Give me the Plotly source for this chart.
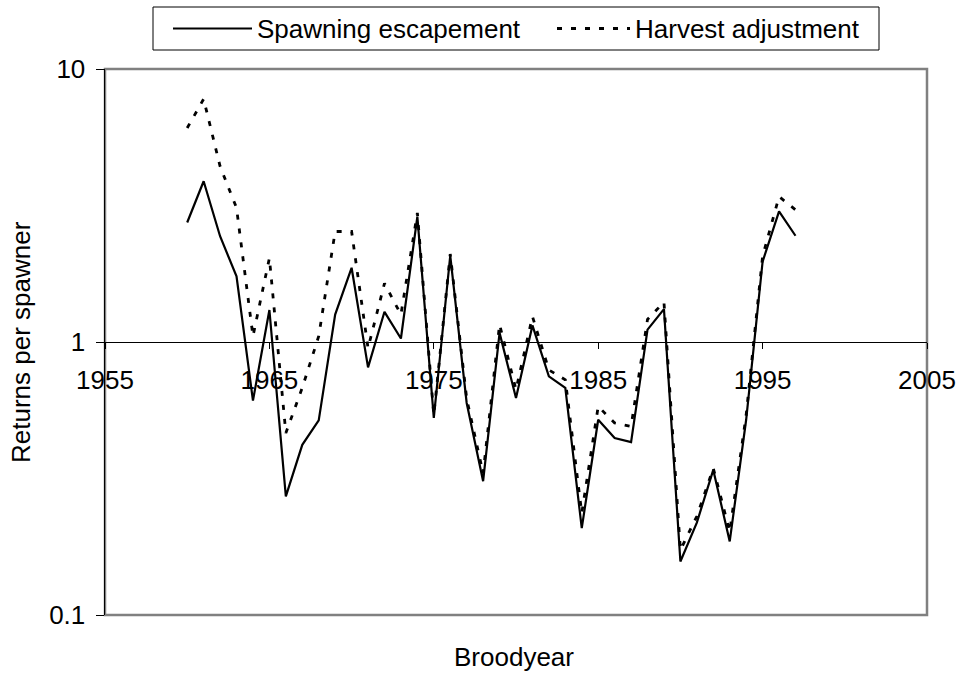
import plotly.graph_objects as go

years = list(range(1960, 1998))
spawning_escapement = [2.74, 3.88, 2.44, 1.74, 0.61, 1.31, 0.272, 0.42, 0.516, 1.26,
                       1.87, 0.807, 1.29, 1.03, 2.88, 0.527, 2.07, 0.598, 0.309, 1.08,
                       0.624, 1.15, 0.748, 0.679, 0.208, 0.519, 0.445, 0.43, 1.11, 1.32,
                       0.157, 0.218, 0.34, 0.186, 0.519, 1.97, 3.01, 2.45]
harvest_adjustment = [6.08, 7.76, 4.4, 3.1, 1.05, 2.03, 0.464, 0.68, 1.05, 2.54,
                      2.54, 0.95, 1.64, 1.26, 2.97, 0.54, 2.1, 0.62, 0.33, 1.16,
                      0.669, 1.24, 0.79, 0.727, 0.236, 0.581, 0.505, 0.491, 1.21, 1.40,
                      0.173, 0.23, 0.345, 0.202, 0.54, 2.06, 3.41, 3.05]

series_names = ["Spawning escapement", "Harvest adjustment"]
x_ticks = [1955, 1965, 1975, 1985, 1995, 2005]
y_ticks = [0.1, 1, 10]
y_labels = ["0.1", "1", "10"]

FONT = "Liberation Sans, Arial, sans-serif"
FS = 26
W, H = 958, 673
L, R, T, B = 105, 31, 69, 58
PW, PH = W - L - R, H - T - B


def sx(x):
    """figure pixel x -> paper fraction"""
    return (x - L) / PW


def sy(y):
    """figure pixel y -> paper fraction"""
    return (H - B - y) / PH


DASH = "5px,9px"

fig = go.Figure()
fig.add_trace(go.Scatter(x=years, y=spawning_escapement, mode="lines",
                         name=series_names[0],
                         line=dict(color="black", width=2.2)))
fig.add_trace(go.Scatter(x=years, y=harvest_adjustment, mode="lines",
                         name=series_names[1],
                         line=dict(color="black", width=2.8, dash=DASH)))

fig.update_layout(
    width=W, height=H,
    margin=dict(l=L, r=R, t=T, b=B, autoexpand=False),
    paper_bgcolor="white", plot_bgcolor="white",
    font=dict(family=FONT, size=FS, color="black"),
    showlegend=False,
    xaxis=dict(range=[1955, 2005], tickvals=x_ticks, ticks="outside", ticklen=6,
               tickcolor="black", showline=True, linecolor="black", linewidth=1,
               showgrid=False, zeroline=False, anchor="free", position=0.5,
               automargin=False, ticklabelstandoff=9,
               tickfont=dict(size=FS)),
    yaxis=dict(type="log", range=[-1, 1], tickvals=y_ticks, ticktext=y_labels,
               ticks="outside", ticklen=8, tickcolor="black", showline=True,
               linecolor="black", linewidth=1.5, showgrid=False, zeroline=False,
               automargin=False, ticklabelstandoff=5,
               tickfont=dict(size=FS)),
)

# plot-area frame
fig.add_shape(type="rect", xref="paper", yref="paper", x0=0, y0=0, x1=1, y1=1,
              line=dict(color="#808080", width=2.5), layer="below")

# axis titles
fig.add_annotation(text="Returns per spawner", xref="paper", yref="paper",
                   x=sx(21), y=sy(342), xanchor="center", yanchor="middle",
                   textangle=-90, showarrow=False, font=dict(size=FS))
fig.add_annotation(text="Broodyear", xref="paper", yref="paper", x=sx(514),
                   y=sy(657), xanchor="center", yanchor="middle",
                   showarrow=False, font=dict(size=FS))

# legend box
fig.add_shape(type="rect", xref="paper", yref="paper", x0=sx(153), x1=sx(879),
              y0=sy(50), y1=sy(7), line=dict(color="black", width=1),
              fillcolor="white")
ly = sy(28.5)
fig.add_shape(type="line", xref="paper", yref="paper", x0=sx(173), x1=sx(252),
              y0=ly, y1=ly, line=dict(color="black", width=2.2))
fig.add_annotation(text=series_names[0], xref="paper", yref="paper", x=sx(255),
                   y=ly, xanchor="left", yanchor="middle", showarrow=False,
                   font=dict(size=FS))
fig.add_shape(type="line", xref="paper", yref="paper", x0=sx(557), x1=sx(630),
              y0=ly, y1=ly, line=dict(color="black", width=2.8, dash=DASH))
fig.add_annotation(text=series_names[1], xref="paper", yref="paper", x=sx(633),
                   y=ly, xanchor="left", yanchor="middle", showarrow=False,
                   font=dict(size=FS))

fig.write_html("out.html",
               config={"displayModeBar": False, "staticPlot": True},
               post_script="document.body.style.margin='0';"
                           "document.body.style.overflow='hidden';")
